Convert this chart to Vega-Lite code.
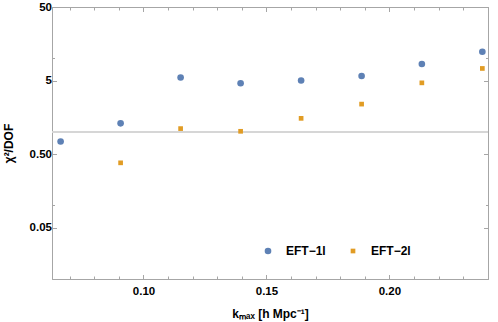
{
  "$schema": "https://vega.github.io/schema/vega-lite/v6.json",
  "width": 436,
  "height": 272,
  "autosize": {"type": "none"},
  "padding": {"left": 52, "top": 7, "right": 10, "bottom": 43},
  "config": {
    "view": {"stroke": "#a6a6a6", "strokeWidth": 1},
    "font": "Liberation Sans",
    "axis": {
      "domainColor": "#a6a6a6",
      "tickColor": "#a6a6a6",
      "grid": false,
      "labelFont": "Liberation Sans",
      "labelFontWeight": "bold",
      "labelFontSize": 11.5,
      "labelColor": "#000000",
      "titleFont": "Liberation Sans",
      "titleFontWeight": "bold",
      "titleFontSize": 12,
      "titleColor": "#000000"
    },
    "legend": {
      "labelFont": "Liberation Sans",
      "labelFontWeight": "bold",
      "labelFontSize": 12,
      "labelColor": "#000000"
    }
  },
  "data": {
    "values": [
      {"k": 0.0663, "chi2": 0.74, "model": "EFT−1l"},
      {"k": 0.0907, "chi2": 1.31, "model": "EFT−1l"},
      {"k": 0.1151, "chi2": 5.5, "model": "EFT−1l"},
      {"k": 0.1395, "chi2": 4.6, "model": "EFT−1l"},
      {"k": 0.1641, "chi2": 5.0, "model": "EFT−1l"},
      {"k": 0.1887, "chi2": 5.77, "model": "EFT−1l"},
      {"k": 0.2132, "chi2": 8.4, "model": "EFT−1l"},
      {"k": 0.2378, "chi2": 12.3, "model": "EFT−1l"},
      {"k": 0.0907, "chi2": 0.38, "model": "EFT−2l"},
      {"k": 0.1151, "chi2": 1.11, "model": "EFT−2l"},
      {"k": 0.1395, "chi2": 1.02, "model": "EFT−2l"},
      {"k": 0.1641, "chi2": 1.53, "model": "EFT−2l"},
      {"k": 0.1887, "chi2": 2.39, "model": "EFT−2l"},
      {"k": 0.2132, "chi2": 4.65, "model": "EFT−2l"},
      {"k": 0.2378, "chi2": 7.3, "model": "EFT−2l"}
    ]
  },
  "layer": [
    {
      "mark": {"type": "rule", "color": "#d6d6d6", "strokeWidth": 1.5},
      "encoding": {
        "y": {"datum": 1, "type": "quantitative", "scale": {"type": "log", "domain": [0.01, 50]}, "axis": null}
      }
    },
    {
      "mark": {"type": "point", "filled": true, "opacity": 1},
      "encoding": {
        "x": {
          "field": "k", "type": "quantitative",
          "scale": {"domain": [0.0628, 0.2401], "nice": false, "zero": false},
          "axis": {
            "orient": "bottom",
            "title": "kₘₐₓ [h Mpc⁻¹]",
            "values": [0.07, 0.08, 0.09, 0.1, 0.11, 0.12, 0.13, 0.14, 0.15, 0.16, 0.17, 0.18, 0.19, 0.2, 0.21, 0.22, 0.23, 0.24],
            "labelExpr": "datum.value == 0.1 ? '0.10' : datum.value == 0.15 ? '0.15' : datum.value == 0.2 ? '0.20' : ''",
            "tickSize": {"condition": {"test": "datum.value == 0.1 || datum.value == 0.15 || datum.value == 0.2", "value": -4.5}, "value": -3},
            "labelPadding": 11,
            "titlePadding": 11
          }
        },
        "y": {
          "field": "chi2", "type": "quantitative",
          "scale": {"type": "log", "domain": [0.01, 50], "nice": false},
          "axis": {
            "orient": "left",
            "title": "χ²/DOF",
            "values": [0.05, 0.1, 0.5, 1, 5, 10, 50],
            "labelExpr": "datum.value == 0.05 ? '0.05' : datum.value == 0.5 ? '0.50' : datum.value == 5 ? '5' : datum.value == 50 ? '50' : ''",
            "tickSize": {"condition": {"test": "datum.value == 0.1 || datum.value == 1 || datum.value == 10", "value": -2.5}, "value": -4.5},
            "labelPadding": 5,
            "titlePadding": 14
          }
        },
        "color": {
          "field": "model", "type": "nominal",
          "scale": {"domain": ["EFT−1l", "EFT−2l"], "range": ["#5e81b5", "#e19c24"]},
          "legend": {
            "title": null,
            "orient": "none",
            "direction": "horizontal",
            "legendX": 210,
            "legendY": 238,
            "columnPadding": 21,
            "labelOffset": 12
          }
        },
        "shape": {
          "field": "model", "type": "nominal",
          "scale": {"domain": ["EFT−1l", "EFT−2l"], "range": ["circle", "square"]}
        },
        "size": {
          "field": "model", "type": "nominal",
          "scale": {"domain": ["EFT−1l", "EFT−2l"], "range": [44, 22]}
        }
      }
    },
    {
      "mark": {"type": "point", "opacity": 0},
      "encoding": {
        "x": {
          "field": "k", "type": "quantitative",
          "axis": {
            "orient": "top",
            "title": null,
            "labels": false,
            "values": [0.07, 0.08, 0.09, 0.1, 0.11, 0.12, 0.13, 0.14, 0.15, 0.16, 0.17, 0.18, 0.19, 0.2, 0.21, 0.22, 0.23, 0.24],
            "tickSize": {"condition": {"test": "datum.value == 0.1 || datum.value == 0.15 || datum.value == 0.2", "value": -4.5}, "value": -3}
          }
        },
        "y": {
          "field": "chi2", "type": "quantitative",
          "axis": {
            "orient": "right",
            "title": null,
            "labels": false,
            "values": [0.05, 0.1, 0.5, 1, 5, 10, 50],
            "tickSize": {"condition": {"test": "datum.value == 0.1 || datum.value == 1 || datum.value == 10", "value": -2.5}, "value": -4.5}
          }
        }
      }
    }
  ],
  "resolve": {"axis": {"x": "independent", "y": "independent"}}
}
